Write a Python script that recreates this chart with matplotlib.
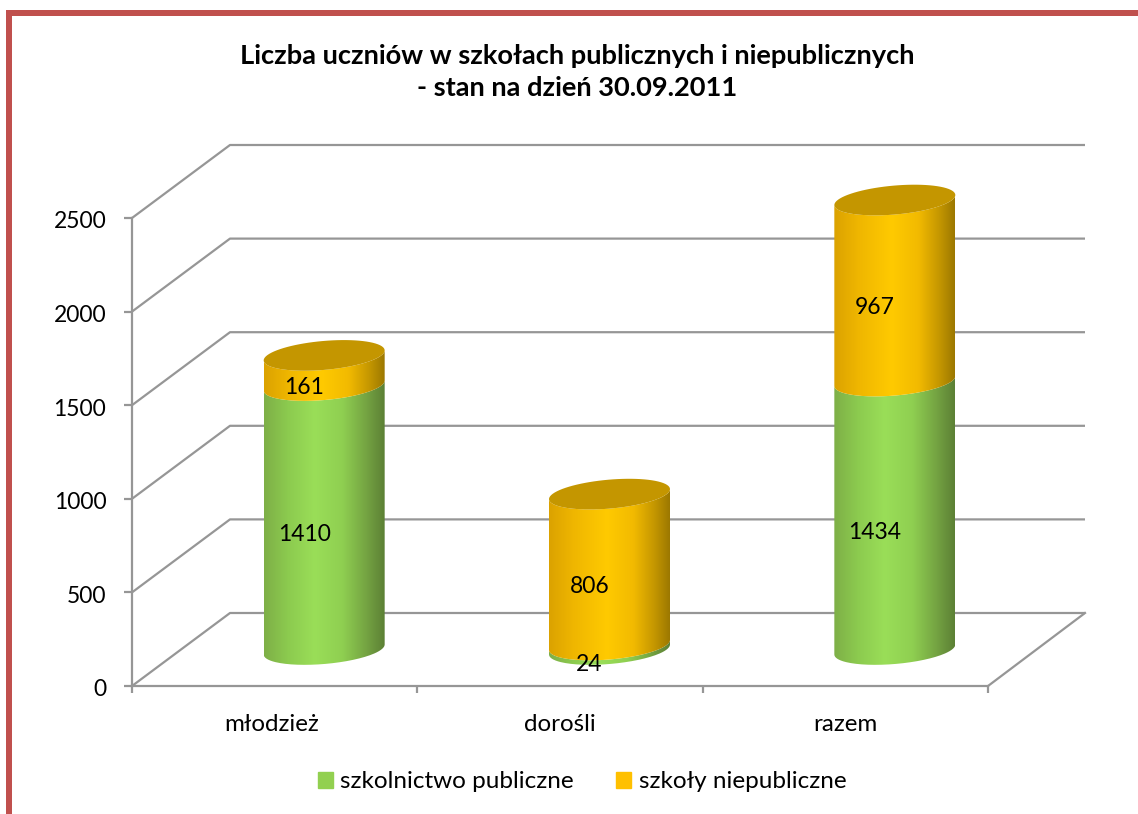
#Student numbers chart (fake 3D stacked cylinders)

#Importing Libraries
import numpy as np
import matplotlib
matplotlib.use('Agg')
import matplotlib.pyplot as plt
from matplotlib.colors import LinearSegmentedColormap
from matplotlib.patches import Patch, PathPatch, Rectangle
from matplotlib.path import Path
from matplotlib.transforms import ScaledTranslation

#Data
categories = ['młodzież', 'dorośli', 'razem']
series_names = ['szkolnictwo publiczne', 'szkoły niepubliczne']
public_values = [1410, 24, 1434]
private_values = [161, 806, 967]
y_ticks = [0, 500, 1000, 1500, 2000, 2500]
title_lines = 'Liczba uczniów w szkołach publicznych i niepublicznych\n- stan na dzień 30.09.2011'

plt.rcParams['font.family'] = ['Lato', 'DejaVu Sans']
FW, FH = 1138, 814

fig = plt.figure(figsize=(FW / 100, FH / 100), dpi=100, facecolor='white')

#Red frame, only left and top edges
fig.add_artist(Rectangle((6 / FW, 0), 6 / FW, 1 - 10 / FH, transform=fig.transFigure, color='#c0504d', lw=0))
fig.add_artist(Rectangle((6 / FW, 1 - 16 / FH), 1 - 6 / FW, 6 / FH, transform=fig.transFigure, color='#c0504d', lw=0))

#Axes is the front plane of the 3D box
ax = fig.add_axes([132 / FW, (FH - 686) / FH, (988 - 132) / FW, (686 - 218) / FH])
ax.set_xlim(0, 3)
ax.set_ylim(0, 2500)
ax.patch.set_visible(False)
px_x = 3 / (988 - 132)
px_y = 2500 / (686 - 218)

#Back wall offset
depth_x = 97 * px_x
depth_y = 73 * px_y

grey = '#969696'
for v in y_ticks:
    ax.plot([0, depth_x + 1 * px_x, 3 + depth_x], [v, v + depth_y, v + depth_y], color=grey, lw=1.6,
            clip_on=False, zorder=1, solid_capstyle='butt')
ax.plot([3, 3 + depth_x], [0, depth_y], color=grey, lw=1.6, clip_on=False, zorder=1)

for side in ['top', 'right']:
    ax.spines[side].set_visible(False)
for side in ['left', 'bottom']:
    ax.spines[side].set_color(grey)
    ax.spines[side].set_linewidth(1.6)
ax.set_yticks(y_ticks)
ax.set_xticks([0, 1, 2, 3])
ax.set_xticks([0.49, 1.5, 2.5], categories, minor=True)
ax.set_xticklabels([])
ax.tick_params(axis='y', length=5.5, width=1.6, color=grey, pad=13, labelsize=16.5)
ax.tick_params(axis='x', which='major', length=5, width=1.6, color=grey)
ax.tick_params(axis='x', which='minor', length=0, pad=20, labelsize=17.4)

#Y tick labels sit a little under their ticks
for label in ax.get_yticklabels():
    label.set_transform(label.get_transform() + ScaledTranslation(0, -2 / 100, fig.dpi_scale_trans))

#Cylinder geometry
half_w = 60.5 * px_x
half_h = 14.5 * px_y
tilt = -5 * px_y
base_y = 36.5 * px_y
center_x = 49.5 * px_x

green_map = LinearSegmentedColormap.from_list('g', [(0, '#7eaf47'), (0.2, '#8ccb4f'), (0.42, '#9ade58'), (0.65, '#8fcf51'), (0.85, '#74a342'), (1, '#5c8035')])
gold_map = LinearSegmentedColormap.from_list('o', [(0, '#dba200'), (0.2, '#efb600'), (0.48, '#ffca00'), (0.7, '#f2ba00'), (0.87, '#c59700'), (1, '#9c7800')])
gradient = np.linspace(0, 1, 256).reshape(1, -1)


def arc(cx, cy, start, end):
    t = np.linspace(start, end, 80)
    return np.column_stack([cx + half_w * np.cos(t), cy + half_h * np.sin(t) - tilt * np.cos(t)])


def draw_body(cx, low, high, cmap, z):
    #front face between two ellipses, painted with a horizontal gradient
    front_low = arc(cx, low, np.pi, 2 * np.pi)
    front_high = arc(cx, high, 2 * np.pi, np.pi)
    pts = np.vstack([front_low, front_high, front_low[:1]])
    clip = PathPatch(Path(pts), transform=ax.transData, fc='none', ec='none')
    ax.add_patch(clip)
    im = ax.imshow(gradient, cmap=cmap, extent=[cx - half_w, cx + half_w, low - 2 * half_h, high + 2 * half_h],
                   aspect='auto', interpolation='bilinear', zorder=z)
    im.set_clip_path(clip)
    #image may rise above the 2500 line, so only the shape clips it
    im.set_clip_box(fig.bbox)


for i in range(3):
    cx = i + 0.5 + center_x
    pub = public_values[i]
    prv = private_values[i]
    draw_body(cx, base_y, base_y + pub, green_map, 2)
    draw_body(cx, base_y + pub, base_y + pub + prv, gold_map, 3)
    #Top cap
    cap = arc(cx, base_y + pub + prv, 0, 2 * np.pi)
    ax.add_patch(PathPatch(Path(cap), fc='#c49600', ec='none', zorder=4, clip_on=False))
    #Value labels
    ax.text(cx - 20 * px_x, base_y + pub / 2 - 17 * px_y, str(pub), ha='center', va='center', fontsize=16.5, color='black', zorder=5)
    ax.text(cx - 20 * px_x, base_y + pub + prv / 2 - 17 * px_y, str(prv), ha='center', va='center', fontsize=16.5, color='black', zorder=5)

ax.set_xlim(0, 3)
ax.set_ylim(0, 2500)

#Title
fig.text(577 / FW, 1 - 71.5 / FH, title_lines, ha='center', va='center', fontsize=19.6, fontweight='bold', linespacing=1.4)

#Legend
handles = [Patch(color='#92d050'), Patch(color='#ffc000')]
fig.legend(handles, series_names, ncols=2, loc='center', bbox_to_anchor=(582 / FW, 1 - 782 / FH), frameon=False,
           fontsize=17.5, handlelength=0.62, handleheight=0.62, handletextpad=0.3, columnspacing=1.75)

fig.savefig('out.png', dpi=100)
